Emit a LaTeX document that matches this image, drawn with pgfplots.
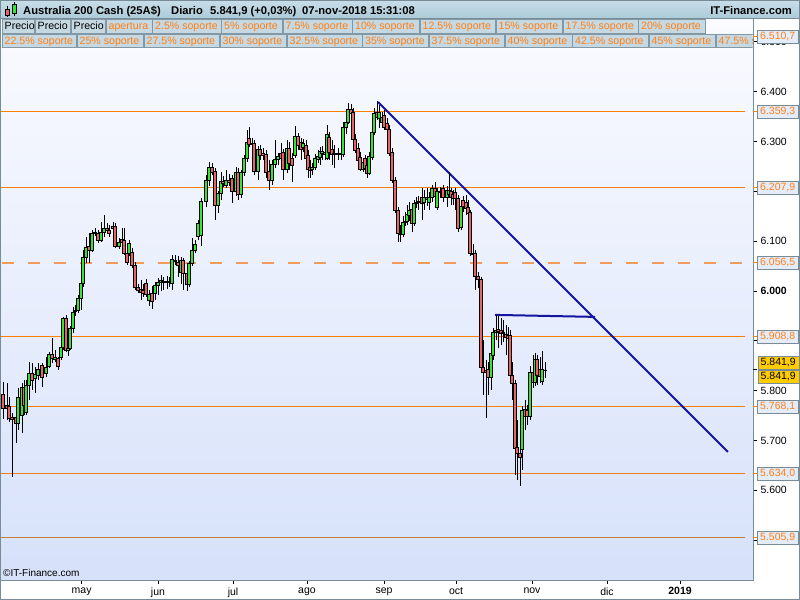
\documentclass[border=0pt]{standalone}
\usepackage{fontspec}
\setmainfont{Liberation Sans}
\usepackage{pgfplots}
\pgfplotsset{compat=1.18}

\definecolor{bgtop}{RGB}{250,251,255}
\definecolor{bgbot}{RGB}{214,225,250}
\definecolor{framegray}{RGB}{120,140,152}
\definecolor{lvlorange}{RGB}{255,128,0}
\definecolor{lvldash}{RGB}{243,155,90}
\definecolor{boxfill}{RGB}{228,236,250}
\definecolor{boxborder}{RGB}{120,140,152}
\definecolor{lvltext}{RGB}{255,128,20}
\definecolor{trendblue}{RGB}{20,20,160}
\definecolor{cgreen}{RGB}{50,230,50}
\definecolor{cred}{RGB}{232,100,100}
\definecolor{tbtop}{RGB}{200,222,232}
\definecolor{tbbot}{RGB}{172,202,216}
\definecolor{btnfill}{RGB}{198,216,226}
\definecolor{btnborder}{RGB}{130,152,165}
\definecolor{gold}{RGB}{255,204,0}

\newcommand\fs[1]{\fontsize{#1bp}{#1bp}\selectfont}
% button: x1, x2, top y, text, text colour
\newcommand\btn[5]{%
  \draw[fill=btnfill, draw=btnborder, line width=0.8bp] (#1,#3) rectangle (#2,#3+13.5);
  \node[anchor=base west, inner sep=0, text=#5, font=\fs{10.6}] at (#1+2.5,#3+10.3) {#4};
}

\pgfdeclareplotmark{candle}{}
\pgfplotsset{
  candles/.style={
    scatter, only marks, mark=candle,
    visualization depends on={\thisrow{h}-\thisrow{o} \as \cdH},
    visualization depends on={\thisrow{l}-\thisrow{o} \as \cdL},
    visualization depends on={\thisrow{c}-\thisrow{o} \as \cdC},
    scatter/@pre marker code/.code={%
      \pgfmathparse{\cdC<0}%
      \ifdim\pgfmathresult pt>0.5pt \def\ccol{cred}\else\def\ccol{cgreen}\fi
      \draw[black, line width=0.9bp] (axis direction cs:0,\cdL) -- (axis direction cs:0,\cdH);
      \filldraw[fill=\ccol, draw=black, line width=0.55bp] (-1.5bp,0pt) rectangle ([xshift=1.5bp]axis direction cs:0,\cdC);
    },
    scatter/@post marker code/.code={},
  }
}

\begin{document}
\begin{tikzpicture}
\path[use as bounding box, fill=white] (0,0) rectangle (800bp,600bp);

\begin{axis}[
  at={(0bp,20bp)}, anchor=south west,
  scale only axis, width=753bp, height=562bp,
  xmin=0, xmax=753, ymin=5420.2, ymax=6547.6,
  axis background/.style={top color=bgtop, bottom color=bgbot},
  axis line style={draw=framegray, line width=1bp},
  xtick={81.6,158,233,307,384,456,532,607,680},
  xticklabels={may,jun,jul,ago,sep,oct,nov,dic,\textbf{2019}},
  ytick={5500,5600,5700,5800,5900,6000,6100,6200,6300,6400,6500},
  yticklabels={{},5.600,5.700,5.800,5.900,\textbf{6.000},6.100,{},6.300,6.400,6.500},
  xtick pos=lower, ytick pos=upper, yticklabel pos=upper,
  tick align=outside, major tick length=4bp,
  major tick style={draw=black, line width=0.8bp},
  tick label style={font=\fs{10.5}},
  extra y ticks={6510.7,6359.3,6207.9,6056.5,5908.8,5768.1,5634.0,5505.9},
  extra y tick labels={{6.510,7},{6.359,3},{6.207,9},{6.056,5},{5.908,8},{5.768,1},{5.634,0},{5.505,9}},
  extra y tick style={major tick style={draw=lvlorange},
    tick label style={draw=boxborder, fill=boxfill, text=lvltext, inner sep=1.5bp,
      minimum width=41bp, minimum height=13bp}},
]
% support / resistance levels
\addplot[draw=lvlorange, line width=1.15bp] coordinates {(0,6359.3) (745,6359.3)};
\addplot[draw=lvlorange!85!gray, line width=1bp] coordinates {(0,6207.9) (745,6207.9)};
\addplot[draw=lvlorange, line width=1.1bp] coordinates {(0,5908.8) (745,5908.8)};
\addplot[draw=lvlorange, line width=1.1bp] coordinates {(0,5768.1) (745,5768.1)};
\addplot[draw=lvlorange!85!gray, line width=1bp] coordinates {(0,5634.0) (745,5634.0)};
\addplot[draw=lvlorange!55!gray, line width=0.9bp] coordinates {(0,5505.9) (745,5505.9)};
\addplot[draw=lvldash, line width=2.6bp, dash pattern=on 12.5bp off 13.5bp] coordinates {(1.7,6056.5) (745,6056.5)};

% daily candles
\addplot[candles] table[x=x, y=o] {
x o h l c
3 5793 5817 5743 5765
7 5771 5815 5741 5765
9 5769 5787 5737 5745
12 5747 5755 5627 5743
16 5747 5761 5695 5735
18 5735 5805 5721 5787
22 5751 5815 5715 5807
24 5807 5821 5751 5771
26 5757 5821 5751 5811
29 5811 5857 5781 5835
32 5835 5855 5801 5821
35 5825 5847 5795 5833
38 5831 5855 5821 5843
42 5851 5855 5807 5827
46 5835 5867 5827 5847
49 5849 5877 5845 5873
52 5873 5905 5855 5865
55 5863 5881 5857 5867
58 5865 5867 5841 5849
61 5867 5893 5861 5887
63 5887 5948 5881 5946
66 5946 5952 5877 5881
68 5881 5901 5869 5885
70 5885 5930 5881 5926
73 5926 5968 5915 5958
75 5960 5972 5950 5962
78 5962 5992 5956 5986
81 5986 6028 5962 6016
83 6016 6082 6008 6068
86 6068 6108 6056 6088
89 6090 6116 6056 6082
92 6082 6122 6078 6116
95 6116 6126 6110 6118
98 6116 6122 6096 6102
101 6102 6138 6098 6118
104 6118 6152 6108 6126
107 6126 6136 6116 6122
109 6122 6132 6108 6116
113 6126 6138 6116 6130
115 6130 6136 6086 6090
119 6090 6106 6084 6098
122 6104 6126 6082 6098
124 6102 6126 6072 6076
127 6076 6082 6052 6058
129 6076 6102 6070 6096
132 6078 6086 6046 6052
135 6052 6058 6002 6008
138 6008 6014 5996 6002
141 6004 6022 5982 5998
143 6002 6014 5988 5996
146 6016 6024 5988 5994
149 5982 6002 5970 5994
152 5996 6010 5964 5980
155 5996 6018 5982 6012
158 6012 6026 5992 6018
161 6018 6032 6000 6022
163 6020 6028 6002 6018
167 6018 6030 6004 6020
169 6018 6028 6008 6019
172 6016 6072 6002 6064
175 6060 6072 6052 6062
178 6058 6070 6028 6052
181 6038 6068 6014 6062
183 6062 6066 6002 6036
187 6036 6042 6000 6014
189 6014 6060 6008 6056
192 6056 6106 6050 6082
195 6082 6102 6076 6094
198 6110 6142 6102 6136
201 6112 6187 6090 6180
206 6180 6233 6168 6223
209 6223 6259 6211 6249
212 6249 6257 6233 6239
215 6241 6247 6142 6172
218 6172 6201 6156 6195
221 6195 6239 6183 6221
223 6221 6231 6209 6217
226 6213 6243 6207 6223
229 6223 6235 6211 6219
232 6227 6233 6176 6199
236 6199 6249 6191 6239
238 6239 6247 6183 6193
241 6193 6243 6187 6239
244 6239 6273 6231 6267
247 6267 6323 6259 6299
249 6307 6329 6289 6295
252 6297 6307 6283 6295
254 6297 6303 6233 6241
258 6241 6291 6223 6285
260 6285 6293 6263 6273
263 6277 6287 6263 6273
266 6275 6283 6227 6239
269 6241 6263 6203 6223
272 6223 6263 6213 6255
275 6255 6303 6247 6265
278 6265 6277 6253 6271
281 6277 6297 6259 6267
283 6279 6285 6223 6245
287 6245 6303 6237 6287
289 6287 6299 6243 6257
292 6267 6277 6219 6253
295 6273 6331 6267 6311
298 6311 6317 6283 6293
301 6299 6307 6263 6285
303 6289 6305 6279 6297
306 6293 6303 6253 6267
308 6273 6283 6227 6245
310 6249 6263 6227 6243
312 6245 6257 6233 6249
315 6249 6275 6243 6267
318 6265 6283 6257 6271
320 6269 6289 6253 6281
322 6277 6291 6263 6281
325 6279 6291 6263 6275
327 6267 6333 6263 6315
329 6309 6319 6263 6279
332 6285 6303 6253 6275
334 6277 6293 6247 6275
338 6275 6287 6263 6277
341 6277 6289 6263 6275
343 6275 6339 6269 6329
346 6329 6357 6315 6339
348 6339 6377 6335 6365
351 6365 6375 6347 6357
353 6359 6367 6299 6305
355 6305 6315 6277 6283
358 6287 6297 6253 6263
360 6269 6279 6241 6245
363 6245 6267 6239 6259
365 6267 6273 6239 6247
367 6253 6263 6227 6237
369 6237 6279 6233 6271
372 6269 6323 6263 6319
374 6319 6367 6313 6357
377 6359 6381 6343 6349
379 6347 6373 6327 6359
382 6339 6359 6327 6349
384 6353 6363 6323 6329
387 6337 6347 6313 6325
389 6325 6333 6271 6277
392 6279 6287 6217 6223
395 6223 6229 6156 6162
398 6162 6168 6098 6116
400 6116 6132 6098 6114
403 6114 6150 6108 6138
405 6138 6158 6130 6140
407 6140 6172 6132 6154
409 6152 6178 6140 6162
412 6164 6172 6118 6136
414 6136 6182 6130 6176
416 6176 6188 6166 6178
418 6178 6190 6162 6180
422 6187 6207 6142 6176
424 6178 6203 6162 6187
427 6187 6207 6170 6183
429 6178 6199 6162 6187
432 6187 6213 6178 6207
435 6207 6219 6183 6189
437 6168 6207 6162 6199
440 6197 6209 6187 6199
443 6207 6213 6178 6187
447 6187 6211 6168 6203
449 6193 6239 6187 6203
451 6199 6207 6172 6187
453 6193 6203 6172 6185
455 6197 6207 6162 6185
458 6185 6193 6118 6126
461 6128 6182 6122 6170
463 6182 6190 6158 6170
466 6178 6193 6152 6166
468 6168 6182 6146 6156
470 6158 6162 6070 6076
473 6076 6094 6066 6074
475 6076 6082 6002 6030
478 6030 6038 6006 6024
481 6024 6028 5841 5847
483 5847 5901 5791 5837
486 5841 5861 5745 5837
488 5843 5857 5791 5827
491 5827 5885 5801 5875
493 5871 5925 5861 5917
496 5917 5952 5901 5922
498 5924 5950 5885 5919
501 5922 5946 5891 5915
503 5915 5942 5897 5917
506 5913 5931 5871 5907
508 5911 5927 5891 5905
510 5911 5921 5817 5831
512 5831 5857 5781 5815
515 5815 5821 5631 5685
517 5687 5741 5621 5675
520 5675 5691 5609 5667
522 5683 5769 5641 5761
525 5763 5781 5721 5749
527 5761 5771 5731 5749
530 5749 5849 5741 5837
533 5837 5871 5805 5817
535 5817 5875 5809 5863
537 5863 5871 5811 5831
540 5843 5867 5815 5829
542 5819 5879 5811 5843
545 5841.5 5857 5825 5841.9
};

% drawn trend lines
\addplot[draw=trendblue, line width=2bp] coordinates {(378,6379) (728,5677)};
\addplot[draw=trendblue, line width=2bp] coordinates {(495,5952) (595,5948)};

\coordinate (cur) at (axis cs:753,5841.9);
\end{axis}

% current price boxes
\draw[black, line width=0.8bp] (cur) -- ++(4bp,0pt);
\node[fill=gold, draw=boxborder, anchor=west, minimum width=41bp, minimum height=13bp,
  inner sep=1.5bp, font=\fs{10.5}] at ([xshift=4.5bp,yshift=7bp]cur) {5.841,9};
\node[fill=gold, draw=boxborder, anchor=west, minimum width=41bp, minimum height=13bp,
  inner sep=1.5bp, font=\fs{10.5}] at ([xshift=4.5bp,yshift=-7bp]cur) {5.841,9};

\begin{scope}[yshift=600bp, x=1bp, y=-1bp]
  % copyright
  \node[anchor=base west, inner sep=0, font=\fs{10}] at (3,577) {\textcopyright IT-Finance.com};
  % title bar
  \shade[top color=tbtop, bottom color=tbbot] (0,0) rectangle (800,18.5);
  \draw[framegray, line width=0.8bp] (0,18.5) -- (800,18.5);
  % icon
  \draw[black, line width=0.6bp] (7,6) -- (7,17);
  \filldraw[fill=cred, draw=black, line width=0.5bp] (5,9.5) rectangle (9,15);
  \draw[black, line width=0.6bp] (14,2) -- (14,16);
  \filldraw[fill=cgreen, draw=black, line width=0.5bp] (12,4.5) rectangle (16,13.5);
  \begin{scope}[font=\bfseries\fs{11.2}]
    \node[anchor=base west, inner sep=0] at (23,15) {Australia 200 Cash (25A\$)};
    \node[anchor=base west, inner sep=0] at (171,15) {Diario};
    \node[anchor=base west, inner sep=0] at (210,15) {5.841,9 (+0,03\%)};
    \node[anchor=base west, inner sep=0] at (302,15) {07-nov-2018 15:31:08};
    \node[anchor=base east, inner sep=0] at (792,15) {IT-Finance.com};
  \end{scope}
  % indicator buttons, row 1
  \btn{2}{34.5}{19.5}{Precio}{black}
  \btn{35}{70.5}{19.5}{Precio}{black}
  \btn{71}{105.5}{19.5}{Precio}{black}
  \btn{106}{152}{19.5}{apertura}{lvltext}
  \btn{152.5}{221}{19.5}{2.5\% soporte}{lvltext}
  \btn{221.5}{282.5}{19.5}{5\% soporte}{lvltext}
  \btn{283}{352}{19.5}{7.5\% soporte}{lvltext}
  \btn{352.5}{419.5}{19.5}{10\% soporte}{lvltext}
  \btn{420}{495.5}{19.5}{12.5\% soporte}{lvltext}
  \btn{496}{562.5}{19.5}{15\% soporte}{lvltext}
  \btn{563}{638}{19.5}{17.5\% soporte}{lvltext}
  \btn{638.5}{705}{19.5}{20\% soporte}{lvltext}
  % row 2
  \btn{2}{76.5}{34}{22.5\% soporte}{lvltext}
  \btn{77}{143.5}{34}{25\% soporte}{lvltext}
  \btn{144}{219.5}{34}{27.5\% soporte}{lvltext}
  \btn{220}{286.5}{34}{30\% soporte}{lvltext}
  \btn{287}{362}{34}{32.5\% soporte}{lvltext}
  \btn{362.5}{428.5}{34}{35\% soporte}{lvltext}
  \btn{429}{504.5}{34}{37.5\% soporte}{lvltext}
  \btn{505}{572}{34}{40\% soporte}{lvltext}
  \btn{572.5}{648.5}{34}{42.5\% soporte}{lvltext}
  \btn{649}{715.5}{34}{45\% soporte}{lvltext}
  \begin{scope}
    \clip (715,33) rectangle (752.5,48);
    \btn{716}{790}{34}{47.5\% soporte}{lvltext}
  \end{scope}
  % outer frame
  \draw[framegray, line width=1bp] (0.5,0.5) rectangle (799.5,599.5);
\end{scope}
\end{tikzpicture}
\end{document}
